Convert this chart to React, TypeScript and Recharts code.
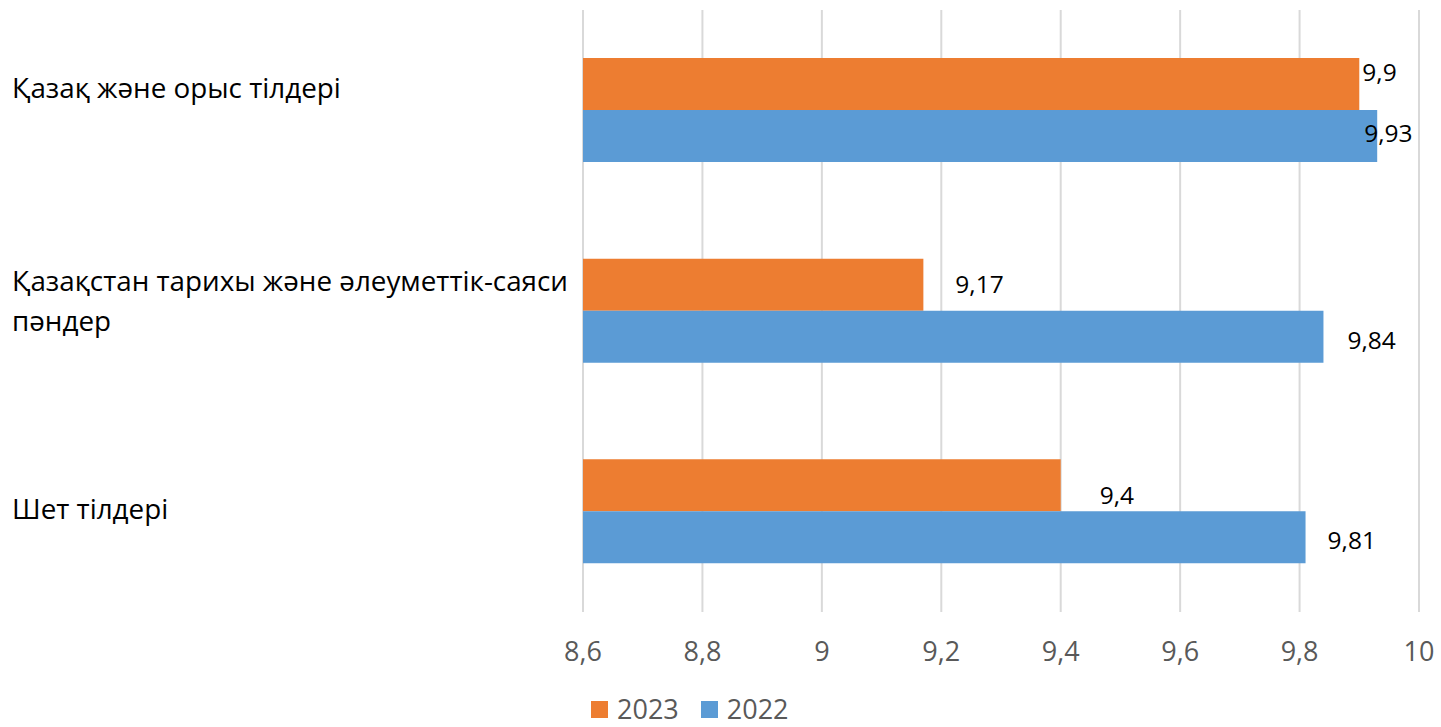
import React from "react";
import { Bar, BarChart, CartesianGrid, LabelList, Legend, XAxis, YAxis } from "recharts";

// Values (Excel-style horizontal clustered bars).
const CATEGORIES = [
  "Қазақ және орыс тілдері",
  "Қазақстан тарихы және әлеуметтік-саяси пәндер",
  "Шет тілдері",
];
const Y2023 = [9.9, 9.17, 9.4];
const Y2022 = [9.93, 9.84, 9.81];
const X_TICKS = [8.6, 8.8, 9, 9.2, 9.4, 9.6, 9.8, 10];

const ORANGE = "#ED7D31";
const BLUE = "#5B9BD5";
const FONT = "'Open Sans', 'Noto Sans', sans-serif";

// The labels in the source were nudged by hand; keep those nudges here.
const LABEL_NUDGE_2023 = [
  [3, -13],
  [32, -1],
  [39, 9],
];
const LABEL_NUDGE_2022 = [
  [-13, -4],
  [24, 3],
  [22, 2],
];
// category label lines: vertical shift relative to band centre
const CAT_SHIFT = [-23, -11, -4];
const CAT_LINES: Record<string, string[]> = {
  "Қазақстан тарихы және әлеуметтік-саяси пәндер": [
    "Қазақстан тарихы және әлеуметтік-саяси",
    "пәндер",
  ],
};

const data = CATEGORIES.map((name, i) => ({ name, y2023: Y2023[i], y2022: Y2022[i] }));

const comma = (v: number) => String(v).replace(".", ",");

function makeLabel(nudge: number[][]) {
  return (props: any) => {
    const { x, y, width, height, value, index } = props;
    const [dx, dy] = nudge[index] ?? [4, 0];
    return (
      <text
        x={Number(x) + Number(width) + dx}
        y={Number(y) + Number(height) / 2 + dy}
        dominantBaseline="central"
        fontFamily={FONT}
        fontSize={24.5}
        fill="#000"
      >
        {comma(value)}
      </text>
    );
  };
}

function CategoryTick(props: any) {
  const { y, payload, index } = props;
  const lines = CAT_LINES[payload.value] ?? [payload.value];
  const lh = 40;
  const start = Number(y) + (CAT_SHIFT[index] ?? 0) - ((lines.length - 1) * lh) / 2;
  return (
    <text x={12} y={start} fontFamily={FONT} fontSize={27.8} fill="#000" textAnchor="start">
      {lines.map((l, i) => (
        <tspan key={i} x={12} y={start + i * lh} dominantBaseline="central">
          {l}
        </tspan>
      ))}
    </text>
  );
}

function LegendBox() {
  const items = [
    { label: "2023", color: ORANGE },
    { label: "2022", color: BLUE },
  ];
  return (
    <div style={{ display: "flex", alignItems: "center", fontFamily: FONT, fontSize: 27, color: "#595959", lineHeight: "34px" }}>
      {items.map((it) => (
        <div key={it.label} style={{ display: "flex", alignItems: "center", marginRight: 22 }}>
          <span style={{ width: 17, height: 17, background: it.color, marginRight: 9 }} />
          <span>{it.label}</span>
        </div>
      ))}
    </div>
  );
}

export default function App() {
  return (
    <div style={{ position: "absolute", left: 0, top: 0, width: 1441, height: 727, overflow: "hidden", background: "#fff" }}>
      <BarChart
        width={1441}
        height={727}
        data={data}
        layout="vertical"
        margin={{ top: 10, right: 22, left: 0, bottom: 31 }}
        barGap={0}
        barSize={52}
      >
        <CartesianGrid horizontal={false} stroke="#d9d9d9" strokeWidth={2} />
        <XAxis
          type="number"
          domain={[8.6, 10]}
          ticks={X_TICKS}
          allowDataOverflow
          axisLine={false}
          tickLine={false}
          tickMargin={24}
          height={50}
          tickFormatter={comma}
          tick={{ fontFamily: FONT, fontSize: 27, fill: "#595959" }}
          interval={0}
        />
        <YAxis
          type="category"
          dataKey="name"
          width={583}
          axisLine={false}
          tickLine={false}
          tick={<CategoryTick />}
          interval={0}
        />
        <Legend
          verticalAlign="bottom"
          content={<LegendBox />}
          wrapperStyle={{ left: 591, top: 692, width: "auto", height: 34 }}
        />
        <Bar dataKey="y2023" name="2023" fill={ORANGE} isAnimationActive={false}>
          <LabelList dataKey="y2023" content={makeLabel(LABEL_NUDGE_2023)} />
        </Bar>
        <Bar dataKey="y2022" name="2022" fill={BLUE} isAnimationActive={false}>
          <LabelList dataKey="y2022" content={makeLabel(LABEL_NUDGE_2022)} />
        </Bar>
      </BarChart>
    </div>
  );
}
